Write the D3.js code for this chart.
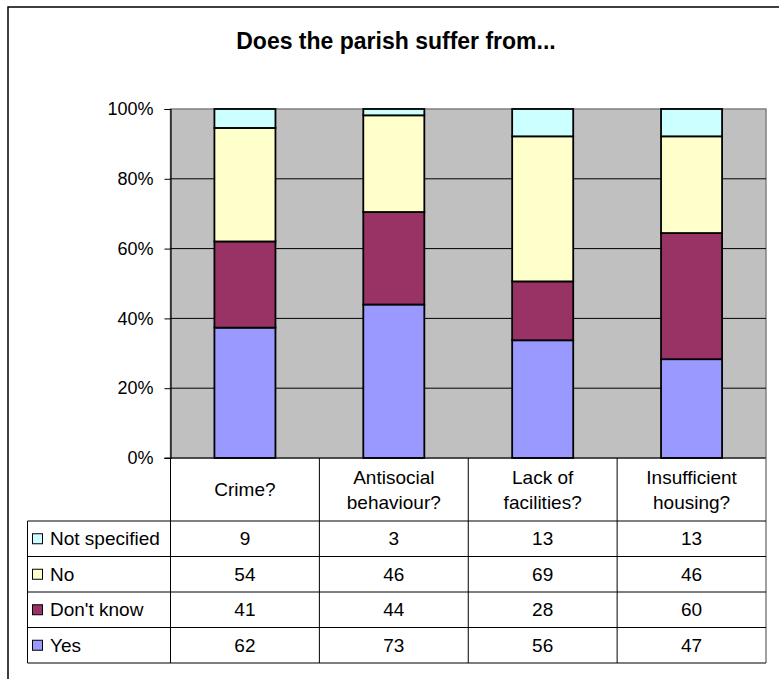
<!DOCTYPE html>
<html lang="en">
  <head>
    <meta charset="utf-8">
    <title>Does the parish suffer from...</title>
    <script src="https://cdn.jsdelivr.net/npm/d3@7"></script>
    <style>
      body { margin: 0; background: #fff; }
      svg text { font-family: "Liberation Sans", Arial, sans-serif; fill: #000; }
      .title { font-size: 23px; font-weight: bold; }
      .lbl { font-size: 19px; }
      .ylbl { font-size: 18px; }
    </style>
  </head>
  <body>
    <script>
      // the data
      var categories = ["Crime?", "Antisocial\nbehaviour?", "Lack of\nfacilities?", "Insufficient\nhousing?"];
      var seriesNames = ["Yes", "Don't know", "No", "Not specified"];
      var yes = [62, 73, 56, 47];
      var dontKnow = [41, 44, 28, 60];
      var no = [54, 46, 69, 46];
      var notSpecified = [9, 3, 13, 13];
      var tableOrder = ["Not specified", "No", "Don't know", "Yes"];

      var colors = {
        "Yes": "#9999FF",
        "Don't know": "#993366",
        "No": "#FFFFCC",
        "Not specified": "#CCFFFF"
      };

      var outerWidth = 779,
        outerHeight = 679;

      // plot area and table edges
      var plot = { left: 170.5, right: 766, top: 109, bottom: 458 };
      var table = { left: 27.5, top: 521, bottom: 663 };

      // build rows for d3.stack
      var rows = categories.map(function(c, i) {
        return { cat: c, "Yes": yes[i], "Don't know": dontKnow[i], "No": no[i], "Not specified": notSpecified[i] };
      });

      var stacked = d3.stack()
        .keys(seriesNames)
        .offset(d3.stackOffsetExpand)(rows);

      var xScale = d3.scaleBand()
        .domain(categories)
        .range([plot.left, plot.right]);

      var yScale = d3.scaleLinear()
        .domain([0, 1])
        .range([plot.bottom, plot.top]);

      var rowScale = d3.scaleBand()
        .domain(tableOrder)
        .range([table.top, table.bottom]);

      var barWidth = xScale.bandwidth() * 0.41;

      var svg = d3.select("body")
        .append("svg")
        .attr("width", outerWidth)
        .attr("height", outerHeight);

      // chart area border (runs off the right and bottom of the picture)
      svg.append("rect")
        .attr("x", 8)
        .attr("y", 7)
        .attr("width", 800)
        .attr("height", 700)
        .attr("fill", "#fff")
        .attr("stroke", "#000")
        .attr("stroke-width", 1.5);

      svg.append("text")
        .attr("class", "title")
        .attr("x", 396)
        .attr("y", 49)
        .attr("text-anchor", "middle")
        .text("Does the parish suffer from...");

      // grey plot background
      svg.append("rect")
        .attr("x", plot.left)
        .attr("y", plot.top)
        .attr("width", plot.right - plot.left)
        .attr("height", plot.bottom - plot.top)
        .attr("fill", "#C0C0C0")
        .attr("stroke", "#808080")
        .attr("stroke-width", 1.5);

      // gridlines
      svg.selectAll(".grid")
        .data(yScale.ticks(5).filter(function(d) { return d > 0 && d < 1; }))
        .enter()
        .append("line")
        .attr("x1", plot.left)
        .attr("x2", plot.right)
        .attr("y1", function(d) { return yScale(d); })
        .attr("y2", function(d) { return yScale(d); })
        .attr("stroke", "#000")
        .attr("stroke-width", 1);

      // stacked bars
      var layers = svg.selectAll(".layer")
        .data(stacked)
        .enter()
        .append("g")
        .attr("fill", function(d) { return colors[d.key]; });

      layers.selectAll("rect")
        .data(function(d) { return d; })
        .enter()
        .append("rect")
        .attr("x", function(d) { return xScale(d.data.cat) + (xScale.bandwidth() - barWidth) / 2; })
        .attr("y", function(d) { return yScale(d[1]); })
        .attr("width", barWidth)
        .attr("height", function(d) { return yScale(d[0]) - yScale(d[1]); })
        .attr("stroke", "#000")
        .attr("stroke-width", 1.8);

      // y axis
      var yAxis = svg.append("g")
        .attr("transform", "translate(" + plot.left + ",0)")
        .call(d3.axisLeft(yScale).ticks(5).tickFormat(d3.format(".0%")).tickSize(6).tickPadding(11));
      yAxis.select(".domain").attr("stroke", "#000").attr("stroke-width", 1.2);
      yAxis.selectAll(".tick line").attr("stroke", "#000");
      yAxis.selectAll("text")
        .attr("class", "ylbl")
        .attr("font-family", null)
        .attr("font-size", null);

      // data table lines
      var tbl = svg.append("g")
        .attr("stroke", "#000")
        .attr("stroke-width", 1);

      // top of table = x axis line
      tbl.append("line")
        .attr("x1", plot.left - 6).attr("x2", plot.right)
        .attr("y1", plot.bottom).attr("y2", plot.bottom)
        .attr("stroke-width", 1.2);

      // column lines
      categories.forEach(function(c) {
        tbl.append("line")
          .attr("x1", xScale(c)).attr("x2", xScale(c))
          .attr("y1", plot.bottom).attr("y2", table.bottom);
      });
      tbl.append("line")
        .attr("x1", plot.right).attr("x2", plot.right)
        .attr("y1", plot.bottom).attr("y2", table.bottom)
        .attr("stroke", "#808080")
        .attr("stroke-width", 1.5);

      // row lines
      tableOrder.forEach(function(r) {
        tbl.append("line")
          .attr("x1", table.left).attr("x2", plot.right)
          .attr("y1", rowScale(r)).attr("y2", rowScale(r));
      });
      tbl.append("line")
        .attr("x1", table.left).attr("x2", plot.right)
        .attr("y1", table.bottom).attr("y2", table.bottom);
      tbl.append("line")
        .attr("x1", table.left).attr("x2", table.left)
        .attr("y1", table.top).attr("y2", table.bottom);

      // category headers (wrap on \n)
      categories.forEach(function(c) {
        var lines = c.split("\n");
        var cx = xScale(c) + xScale.bandwidth() / 2;
        var cy = (plot.bottom + table.top) / 2;
        lines.forEach(function(line, i) {
          svg.append("text")
            .attr("class", "lbl")
            .attr("x", cx)
            .attr("y", cy + (i - (lines.length - 1) / 2) * 25)
            .attr("dy", "0.35em")
            .attr("text-anchor", "middle")
            .text(line);
        });
      });

      // legend keys + row names + values
      var seriesValues = { "Yes": yes, "Don't know": dontKnow, "No": no, "Not specified": notSpecified };
      tableOrder.forEach(function(r) {
        var cy = rowScale(r) + rowScale.bandwidth() / 2;
        svg.append("rect")
          .attr("x", 32.5)
          .attr("y", cy - 5)
          .attr("width", 10)
          .attr("height", 10)
          .attr("fill", colors[r])
          .attr("stroke", "#000")
          .attr("stroke-width", 1);
        svg.append("text")
          .attr("class", "lbl")
          .attr("x", 50)
          .attr("y", cy)
          .attr("dy", "0.35em")
          .text(r);
        categories.forEach(function(c, i) {
          svg.append("text")
            .attr("class", "lbl")
            .attr("x", xScale(c) + xScale.bandwidth() / 2)
            .attr("y", cy)
            .attr("dy", "0.35em")
            .attr("text-anchor", "middle")
            .text(seriesValues[r][i]);
        });
      });
    </script>
  </body>
</html>
